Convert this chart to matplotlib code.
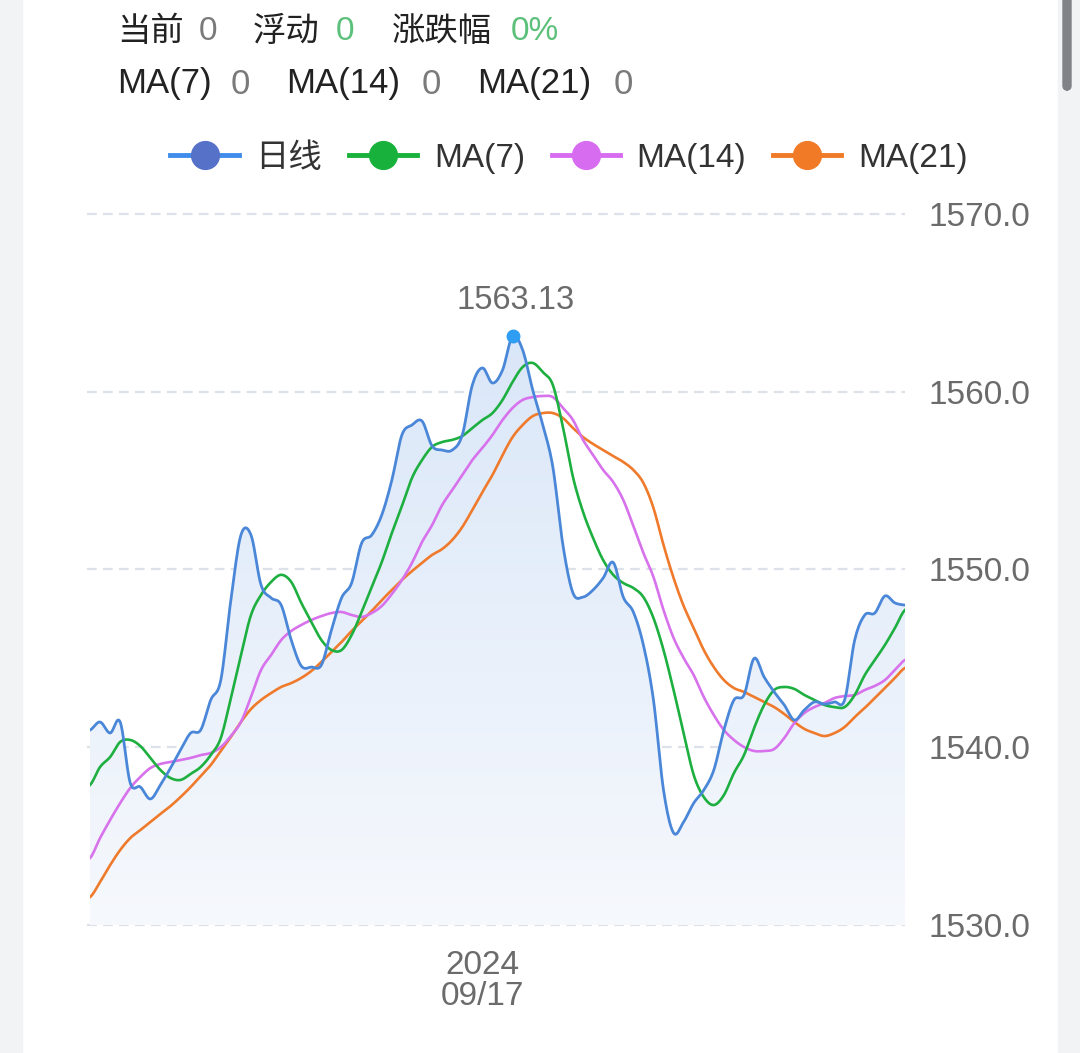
import numpy as np
import matplotlib
matplotlib.use("Agg")
import matplotlib.pyplot as plt
from matplotlib.lines import Line2D
from matplotlib.patches import Rectangle, FancyBboxPatch

plt.rcParams['font.family'] = ['Liberation Sans', 'Noto Sans CJK SC', 'DejaVu Sans']
plt.rcParams['lines.scale_dashes'] = False

# daily close (日线) and moving averages
daily = [1540.97, 1541.42, 1540.80, 1541.42, 1537.99, 1537.77, 1537.09, 1537.88, 1538.83, 1539.85,
         1540.80, 1540.97, 1542.66, 1543.78, 1548.28, 1551.94, 1551.94, 1549.13, 1548.40, 1548.00,
         1546.03, 1544.57, 1544.51, 1544.63, 1546.60, 1548.40, 1549.24, 1551.49, 1551.94, 1553.07,
         1555.03, 1557.57, 1558.13, 1558.35, 1556.95, 1556.72, 1556.72, 1557.57, 1560.38, 1561.34,
         1560.49, 1561.22, 1563.13, 1562.35, 1560.10, 1558.13, 1555.77, 1551.38, 1548.68, 1548.45,
         1548.85, 1549.52, 1550.40, 1548.45, 1547.61, 1545.75, 1542.66, 1537.59, 1535.18, 1535.80,
         1536.86, 1537.59, 1538.72, 1540.97, 1542.66, 1542.94, 1545.00, 1543.95, 1543.11, 1542.38,
         1541.53, 1542.10, 1542.55, 1542.43, 1542.55, 1542.66, 1546.03, 1547.44, 1547.55, 1548.51,
         1548.12, 1548.00]
ma7 = [1537.88, 1538.89, 1539.45, 1540.30, 1540.41, 1540.07, 1539.40, 1538.72, 1538.27, 1538.16,
       1538.50, 1538.89, 1539.56, 1540.52, 1542.77, 1545.19, 1547.44, 1548.57, 1549.30, 1549.70,
       1549.30, 1548.12, 1547.05, 1546.03, 1545.47, 1545.47, 1546.31, 1547.61, 1549.02, 1550.42,
       1552.05, 1553.57, 1555.15, 1556.16, 1556.90, 1557.17, 1557.29, 1557.51, 1557.96, 1558.41,
       1558.80, 1559.54, 1560.55, 1561.39, 1561.62, 1561.11, 1560.38, 1558.02, 1555.20, 1553.24,
       1551.77, 1550.53, 1549.70, 1549.24, 1548.96, 1548.45, 1547.27, 1545.47, 1543.22, 1540.80,
       1538.44, 1537.20, 1536.75, 1537.31, 1538.55, 1539.56, 1541.08, 1542.38, 1543.22, 1543.39,
       1543.28, 1542.94, 1542.66, 1542.38, 1542.26, 1542.26, 1542.94, 1544.06, 1544.91, 1545.75,
       1546.71, 1547.72]
ma14 = [1533.77, 1534.89, 1535.91, 1536.86, 1537.71, 1538.33, 1538.83, 1539.06, 1539.17, 1539.28,
        1539.40, 1539.56, 1539.68, 1540.01, 1540.63, 1541.42, 1542.83, 1544.35, 1545.19, 1546.03,
        1546.54, 1546.88, 1547.16, 1547.38, 1547.55, 1547.61, 1547.44, 1547.33, 1547.55, 1547.95,
        1548.62, 1549.41, 1550.37, 1551.55, 1552.50, 1553.63, 1554.47, 1555.32, 1556.16, 1556.84,
        1557.57, 1558.41, 1559.09, 1559.54, 1559.70, 1559.76, 1559.70, 1559.09, 1558.41, 1557.29,
        1556.44, 1555.60, 1554.92, 1553.91, 1552.45, 1550.93, 1549.58, 1547.72, 1546.15, 1545.02,
        1544.06, 1542.83, 1541.81, 1540.97, 1540.41, 1540.01, 1539.79, 1539.79, 1539.90, 1540.52,
        1541.36, 1541.93, 1542.26, 1542.49, 1542.77, 1542.88, 1542.94, 1543.22, 1543.45, 1543.78,
        1544.35, 1544.91]
ma21 = [1531.57, 1532.42, 1533.37, 1534.22, 1534.89, 1535.34, 1535.79, 1536.25, 1536.69, 1537.20,
        1537.76, 1538.38, 1539.00, 1539.79, 1540.58, 1541.42, 1542.15, 1542.66, 1543.05, 1543.39,
        1543.61, 1543.90, 1544.29, 1544.80, 1545.36, 1545.92, 1546.54, 1547.10, 1547.67, 1548.28,
        1548.85, 1549.41, 1549.91, 1550.37, 1550.82, 1551.15, 1551.66, 1552.39, 1553.35, 1554.36,
        1555.32, 1556.44, 1557.45, 1558.13, 1558.63, 1558.80, 1558.80, 1558.52, 1557.96, 1557.45,
        1557.06, 1556.72, 1556.38, 1556.05, 1555.60, 1554.87, 1553.46, 1551.38, 1549.52, 1547.95,
        1546.71, 1545.47, 1544.51, 1543.78, 1543.33, 1543.11, 1542.83, 1542.55, 1542.26, 1541.87,
        1541.42, 1541.03, 1540.80, 1540.63, 1540.80, 1541.14, 1541.70, 1542.21, 1542.77, 1543.33,
        1543.90, 1544.46]

y_ticks = [1530, 1540, 1550, 1560, 1570]
date_idx = 39
date_label = "2024\n09/17"


def smooth(vals, n=10):
    # Catmull-Rom curve through the points, like the smooth line option of the web chart
    y = np.asarray(vals, float)
    p = np.concatenate([[y[0]], y, [y[-1]]])
    t = np.linspace(0, 1, n, endpoint=False)[:, None]
    p0, p1, p2, p3 = p[:-3], p[1:-2], p[2:-1], p[3:]
    m1 = (p2 - p0) / 2
    m2 = (p3 - p1) / 2
    h00 = 2 * t**3 - 3 * t**2 + 1
    h10 = t**3 - 2 * t**2 + t
    h01 = -2 * t**3 + 3 * t**2
    h11 = t**3 - t**2
    seg = h00 * p1 + h10 * m1 + h01 * p2 + h11 * m2
    xs = (np.arange(len(y) - 1)[None, :] + t).T.ravel()
    ys = seg.T.ravel()
    return np.append(xs, len(y) - 1), np.append(ys, y[-1])


W, H = 1080, 1053
fig = plt.figure(figsize=(W / 100, H / 100), dpi=100)
fig.patch.set_facecolor('white')

# side strips of the page + scrollbar
fig.patches.append(Rectangle((0, 0), 22 / W, 1, transform=fig.transFigure, color='#f2f3f5', zorder=0))
fig.patches.append(Rectangle((1058 / W, 0), 22 / W, 1, transform=fig.transFigure, color='#f2f3f5', zorder=0))
fig.patches.append(FancyBboxPatch((1063 / W, 1 - 90 / H), 8 / W, 95 / H, boxstyle='round,pad=0,rounding_size=0.004',
                                  transform=fig.transFigure, color='#808287', zorder=1))

ax = fig.add_axes([90 / W, 1 - 925 / H, 815 / W, 711 / H])
n = len(daily)
ax.set_xlim(0, n - 1)
ax.set_ylim(1530, 1570)

for v in y_ticks:
    ax.plot([-0.25, n - 1], [v, v], color='#dde2ea', lw=1.6, ls=(0, (7, 4.5)),
            clip_on=False, zorder=1)

# gradient area under the daily line
dx, dy = smooth(daily)
fill = ax.fill_between(dx, dy, 1530, color='none', lw=0)
grad = np.linspace(0, 1, 256)[:, None]
top_c = np.array([0.855, 0.905, 0.975])
bot_c = np.array([0.965, 0.975, 0.99])
img = top_c * (1 - grad[..., None]) + bot_c * grad[..., None]
im = ax.imshow(img, extent=[0, n - 1, 1530, 1563.2], aspect='auto', origin='upper', zorder=2)
im.set_clip_path(fill.get_paths()[0], transform=ax.transData)

for vals, c, z in [(ma21, '#ef7a2c', 3), (ma14, '#d772ec', 4), (ma7, '#1daf3f', 5)]:
    sx, sy = smooth(vals)
    ax.plot(sx, sy, color=c, lw=1.9, zorder=z, solid_joinstyle='round')
ax.plot(dx, dy, color='#4a87d8', lw=2.0, zorder=6, solid_joinstyle='round')

peak = int(np.argmax(daily))
ax.plot(peak, daily[peak], 'o', color='#2f9ef2', ms=9, zorder=7)
ax.annotate(f"{daily[peak]:.2f}", (peak, daily[peak]), xytext=(2, 26), textcoords='offset points',
            ha='center', va='center', fontsize=23.5, color='#6b6b6b')

for s in ax.spines.values():
    s.set_visible(False)
ax.yaxis.tick_right()
ax.set_yticks(y_ticks)
ax.set_yticklabels([f"{v:.1f}" for v in y_ticks])
ax.tick_params(axis='y', length=0, pad=17, labelsize=24, labelcolor='#6b6b6b')
ax.set_xticks([date_idx])
ax.set_xticklabels([date_label])
ax.tick_params(axis='x', length=0, pad=18, labelsize=24, labelcolor='#6b6b6b')
for lbl in ax.get_xticklabels():
    lbl.set_linespacing(1.0)

# header values
dark = '#222222'
grey = '#7a7a7a'
green = '#5cc07a'
row1 = [("当前", 117, dark), ("0", 199, grey), ("浮动", 253, dark), ("0", 336, green),
        ("涨跌幅", 392, dark), ("0%", 511, green)]
row2 = [("MA(7)", 117, dark), ("0", 231, grey), ("MA(14)", 286, dark), ("0", 422, grey),
        ("MA(21)", 477, dark), ("0", 614, grey)]
for txt, px, c in row1:
    fig.text(px / W, 1 - 32 / H, txt, fontsize=24, color=c, ha='left', va='center')
for txt, px, c in row2:
    fig.text(px / W, 1 - 84 / H, txt, fontsize=25, color=c, ha='left', va='center')

handles = [
    Line2D([], [], color='#3f8ceb', lw=3.5, marker='o', ms=20, mfc='#5571c8', mec='#5571c8'),
    Line2D([], [], color='#18b13c', lw=3.5, marker='o', ms=20, mfc='#18b13c', mec='#18b13c'),
    Line2D([], [], color='#d76cf0', lw=3.5, marker='o', ms=20, mfc='#d76cf0', mec='#d76cf0'),
    Line2D([], [], color='#f07a26', lw=3.5, marker='o', ms=20, mfc='#f07a26', mec='#f07a26'),
]
leg = fig.legend(handles, ["日线", "MA(7)", "MA(14)", "MA(21)"], loc='center',
                 bbox_to_anchor=(569 / W, 1 - 158 / H), ncol=4, frameon=False, fontsize=24,
                 handlelength=2.05, handletextpad=0.5, columnspacing=0.8, labelcolor='#333333')

fig.savefig("out.png", dpi=100)
